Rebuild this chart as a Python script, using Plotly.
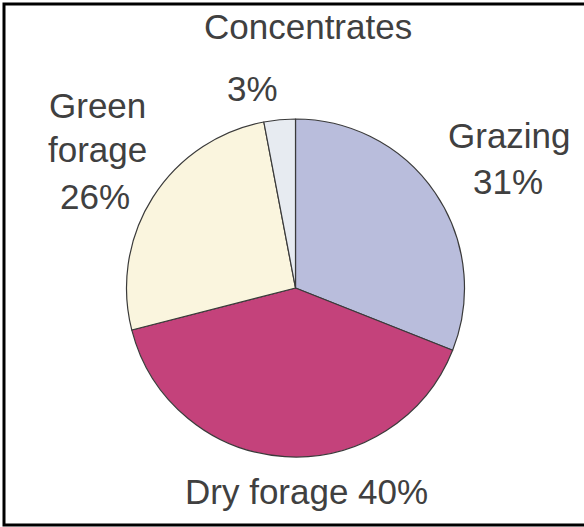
import plotly.graph_objects as go

# ---- data ----
labels = ["Grazing", "Dry forage", "Green forage", "Concentrates"]
values = [31, 40, 26, 3]
colors = ["#b9bddc", "#c4427b", "#faf5de", "#e7ebf1"]

W, H = 584, 527
FS = 35
FONT = "Liberation Sans, Arial, sans-serif"
TXT = "#404040"

# pie geometry (pixels)
CX, CY, R = 295.5, 288, 169

# label placement: per label, list of (line template, center x px, baseline y px)
label_lines = {
    "Grazing": [("{w0}", 509, 147), ("{pct}", 508, 193)],
    "Dry forage": [("{name} {pct}", 306.5, 503)],
    "Green forage": [("{w0}", 97, 117), ("{w1}", 97, 161), ("{pct}", 95, 208)],
    "Concentrates": [("{name}", 307.5, 38), ("{pct}", 252, 100)],
}

fig = go.Figure(go.Pie(
    labels=labels,
    values=values,
    sort=False,
    direction="clockwise",
    rotation=0,
    textinfo="none",
    hoverinfo="skip",
    showlegend=False,
    marker=dict(colors=colors, line=dict(color="#3a3a3a", width=1.2)),
    domain=dict(x=[(CX - R) / W, (CX + R) / W],
                y=[(H - CY - R) / H, (H - CY + R) / H]),
))

annotations = []
total = sum(values)
for name, val in zip(labels, values):
    words = name.split()
    fmt = dict(name=name, pct=f"{round(val / total * 100)}%",
               w0=words[0], w1=words[-1])
    for tmpl, x, base in label_lines[name]:
        annotations.append(dict(
            text=tmpl.format(**fmt), x=x / W, y=1 - (base - 0.33 * FS) / H,
            xref="paper", yref="paper", xanchor="center", yanchor="middle",
            showarrow=False, font=dict(family=FONT, size=FS, color=TXT),
        ))

# frame (top, left, bottom edges)
frame = dict(type="path", xref="paper", yref="paper",
             path=f"M {1.0} {1 - 4 / H} L {4 / W} {1 - 4 / H} L {4 / W} {1 - 525 / H} L 1.0 {1 - 525 / H}",
             line=dict(color="black", width=3))

fig.update_layout(
    width=W, height=H,
    margin=dict(l=0, r=0, t=0, b=0),
    paper_bgcolor="white", plot_bgcolor="white",
    annotations=annotations,
    shapes=[frame],
)

fig.write_html("out.html")
